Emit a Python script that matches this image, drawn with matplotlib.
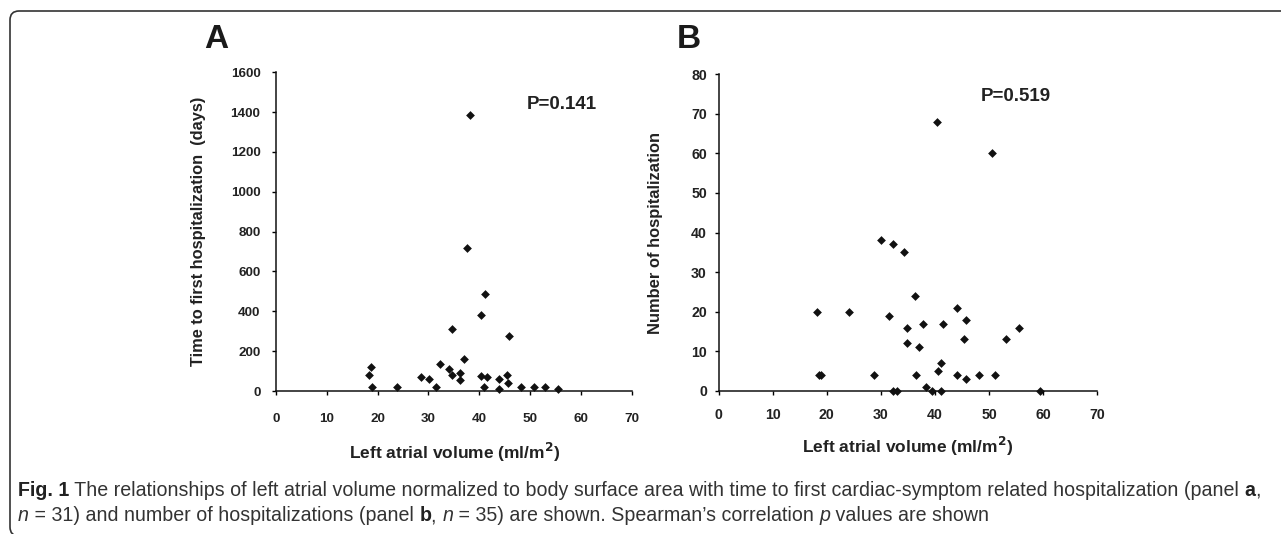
import matplotlib
matplotlib.use("Agg")
import matplotlib.pyplot as plt
import matplotlib.font_manager as fm
from matplotlib.transforms import IdentityTransform
from matplotlib.patches import FancyBboxPatch

# panel A: left atrial volume vs time to first hospitalization (days)
lav_a = [18.7, 18.4, 19.0, 23.9, 28.6, 30.1, 31.5, 32.3, 34.1, 34.7, 34.7, 36.3, 36.3, 37.0, 37.5,
         38.2, 40.4, 40.3, 41.2, 41.5, 41.0, 43.9, 43.9, 45.4, 45.7, 45.8, 48.1, 50.8, 53.0, 55.5]
days_a = [120, 80, 22, 22, 70, 59, 22, 134, 109, 313, 80, 92, 54, 162, 718,
          1384, 383, 75, 487, 70, 22, 59, 10, 82, 42, 276, 18, 18, 18, 12]

# panel B: left atrial volume vs number of hospitalizations
lav_b = [18.2, 18.6, 19.0, 24.0, 28.7, 30.1, 31.5, 32.3, 32.3, 33.0, 34.2, 34.75, 34.75, 36.35,
         36.5, 37.0, 37.7, 38.3, 39.5, 40.4, 40.5, 41.1, 41.1, 41.5, 44.0, 44.0, 45.4, 45.7,
         45.8, 48.2, 50.5, 51.0, 53.1, 55.6, 59.4]
nhosp_b = [20, 4, 4, 20, 4, 38, 19, 37, 0, 0, 35, 16, 12, 24,
           4, 11, 17, 1, 0, 68, 5, 7, 0, 17, 21, 4, 13, 18,
           3, 4, 60, 4, 13, 16, 0]

W, H = 1281, 534
fig = plt.figure(figsize=(W / 100, H / 100), dpi=100)

ARIAL = "Liberation Sans"


def condensed_font(weight, style):
    # use a real condensed face if one is installed, otherwise plain sans
    for fam in ["Open Sans Condensed", "Open Sans", "Liberation Sans Narrow"]:
        try:
            fp = fm.FontProperties(family=fam, stretch="condensed", weight=weight, style=style)
            path = fm.findfont(fp, fallback_to_default=False)
            if "ondensed" in path or "Narrow" in path:
                return fm.FontProperties(fname=path)
        except Exception:
            pass
    return fm.FontProperties(family=ARIAL, weight=weight, style=style)


def fx(px):
    return px / W


def fy(py):
    return 1 - py / H


def style_axes(ax, xpad, ypad, fsize):
    for s in ["top", "right"]:
        ax.spines[s].set_visible(False)
    for s in ["left", "bottom"]:
        ax.spines[s].set_linewidth(1.1)
        ax.spines[s].set_color("#111111")
    ax.set_xlim(0, 70)
    ax.set_xticks(range(0, 71, 10))
    ax.tick_params(axis="x", direction="out", length=3, width=1, pad=xpad, labelsize=fsize)
    ax.tick_params(axis="y", direction="out", length=3, width=1, pad=ypad, labelsize=fsize)
    for lab in ax.get_xticklabels() + ax.get_yticklabels():
        lab.set_fontweight("bold")
        lab.set_fontfamily(ARIAL)
        lab.set_color("#222222")


# panel A
axA = fig.add_axes([fx(275.7), fy(391), fx(632 - 275.7), (391 - 72.3) / H])
axA.scatter(lav_a, days_a, marker="D", s=20, color="#111111", linewidths=0, clip_on=False)
axA.set_ylim(0, 1600)
axA.set_yticks(range(0, 1601, 200))
style_axes(axA, 13, 8, 9.7)
axA.set_ylabel("Time to first hospitalization  (days)", fontsize=11.8, fontweight="bold",
               family=ARIAL, color="#222222")
axA.yaxis.set_label_coords(-0.196, 0.5)
axA.text(56.2, 1439, "P=0.141", fontsize=13.5, fontweight="bold", family=ARIAL,
         ha="center", va="center", color="#222222")

# panel B
axB = fig.add_axes([fx(718.7), fy(391), fx(1097.3 - 718.7), (391 - 74) / H])
axB.scatter(lav_b, nhosp_b, marker="D", s=20, color="#111111", linewidths=0, clip_on=False)
axB.set_ylim(0, 80)
axB.set_yticks(range(0, 81, 10))
style_axes(axB, 9, 5.5, 10.2)
axB.set_ylabel("Number of hospitalization", fontsize=11.9, fontweight="bold",
               family=ARIAL, color="#222222")
axB.yaxis.set_label_coords(-0.147, 0.5)
axB.text(55.0, 74.4, "P=0.519", fontsize=13.5, fontweight="bold", family=ARIAL,
         ha="center", va="center", color="#222222")

# panel letters
fig.text(fx(216), fy(40), "A", fontsize=24, fontweight="bold", family=ARIAL,
         ha="center", va="center", color="#1a1a1a")
fig.text(fx(689), fy(40), "B", fontsize=24, fontweight="bold", family=ARIAL,
         ha="center", va="center", color="#1a1a1a")

# x labels
xl_font = condensed_font("bold", "normal")
xl_font.set_size(12.5 if xl_font.get_family()[0] == ARIAL else 14)
xl = "Left atrial volume (ml/m$^{\\mathbf{2}}$)"
fig.text(fx(455), fy(452), xl, fontproperties=xl_font,
         ha="center", va="center", color="#222222")
fig.text(fx(908), fy(446), xl, fontproperties=xl_font,
         ha="center", va="center", color="#222222")

# frame: open on the right, rounded on the left
fig.add_artist(FancyBboxPatch((10, -2), 1300, 525, boxstyle="round,pad=0,rounding_size=9",
                              transform=IdentityTransform(), fill=False,
                              edgecolor="#333333", linewidth=1.2, clip_on=False))

# caption, drawn as runs of regular / bold / italic text
renderer = fig.canvas.get_renderer()
fonts = {
    ("normal", "normal"): condensed_font("normal", "normal"),
    ("bold", "normal"): condensed_font("bold", "normal"),
    ("normal", "italic"): condensed_font("normal", "italic"),
}


def run_width(s, size, weight, style):
    fp = fonts[(weight, style)].copy()
    fp.set_size(size)
    t1 = fig.text(0, 0, "|" + s + "|", fontproperties=fp)
    t2 = fig.text(0, 0, "||", fontproperties=fp)
    w = t1.get_window_extent(renderer).width - t2.get_window_extent(renderer).width
    t1.remove()
    t2.remove()
    return w


def draw_runs(x0, ybase, parts, size):
    x = x0
    for s, weight, style, col in parts:
        fp = fonts[(weight, style)].copy()
        fp.set_size(size)
        fig.text(x, ybase, s, fontproperties=fp, color=col,
                 transform=IdentityTransform(), va="baseline", ha="left")
        x += run_width(s, size, weight, style)
    return x


line1 = [("Fig. 1", "bold", "normal", "#222222"),
         (" The relationships of left atrial volume normalized to body surface area with time to "
          "first cardiac-symptom related hospitalization (panel ", "normal", "normal", "#333333"),
         ("a", "bold", "normal", "#222222"),
         (",", "normal", "normal", "#333333")]
line2 = [("n", "normal", "italic", "#333333"),
         (" = 31) and number of hospitalizations (panel ", "normal", "normal", "#333333"),
         ("b", "bold", "normal", "#222222"),
         (", ", "normal", "normal", "#333333"),
         ("n", "normal", "italic", "#333333"),
         (" = 35) are shown. Spearman\u2019s correlation ", "normal", "normal", "#333333"),
         ("p", "normal", "italic", "#333333"),
         (" values are shown", "normal", "normal", "#333333")]

target = 1262 - 18
w1 = sum(run_width(s, 10, w, st) for s, w, st, c in line1)
cap_size = 10 * target / w1
draw_runs(18, H - 496, line1, cap_size)
draw_runs(18, H - 521, line2, cap_size)

fig.savefig("out.png", dpi=100)
